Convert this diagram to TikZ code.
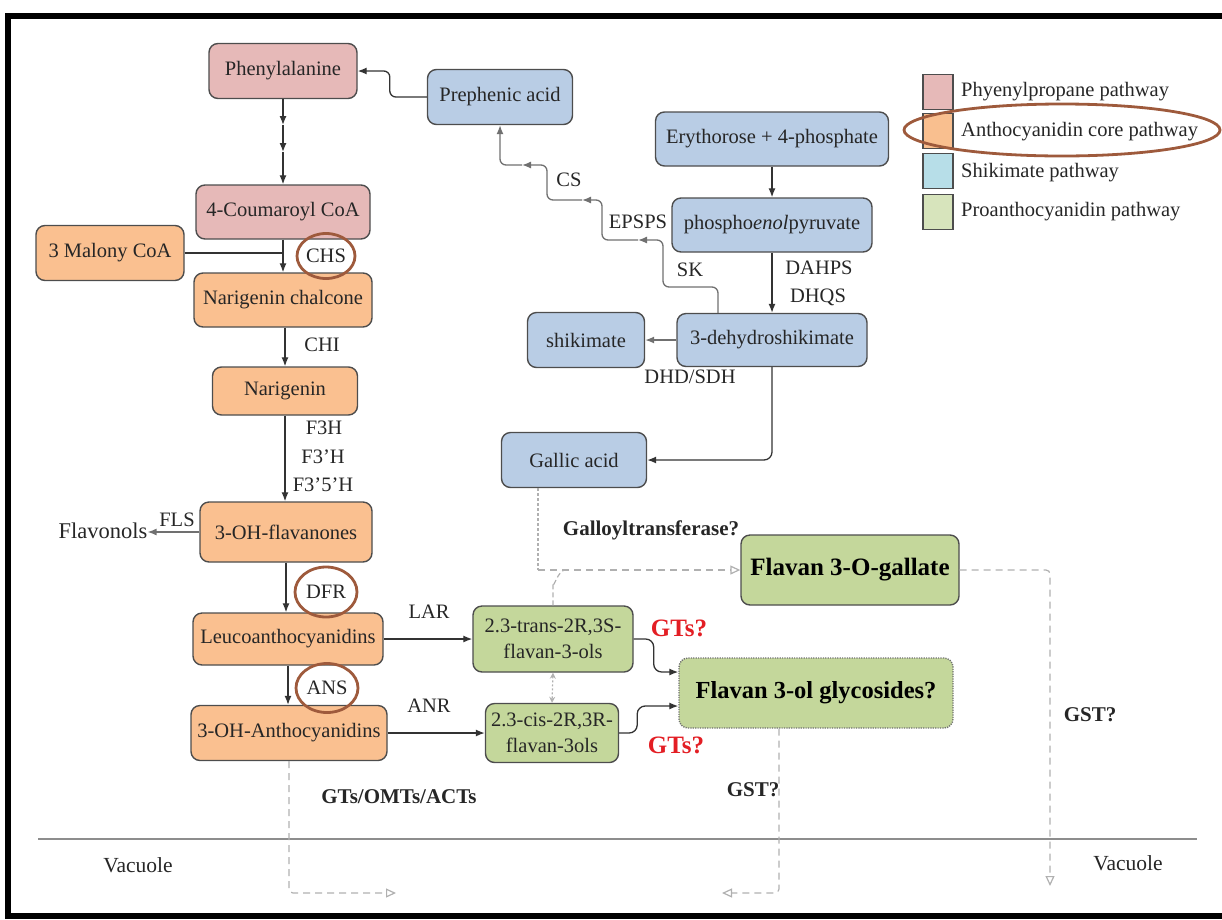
\documentclass[tikz,border=0pt]{standalone}
\usepackage{fontspec}
\setmainfont{Liberation Serif}
\usetikzlibrary{arrows.meta,shapes.geometric,calc}
\definecolor{pinkf}{HTML}{E6B9B8}
\definecolor{orangef}{HTML}{FAC090}
\definecolor{bluef}{HTML}{B9CDE5}
\definecolor{greenf}{HTML}{C4D79B}
\definecolor{lgpink}{HTML}{E6B9B8}
\definecolor{lgorange}{HTML}{F9BF8F}
\definecolor{lgblue}{HTML}{B7DEE8}
\definecolor{lggreen}{HTML}{D7E4BC}
\definecolor{bord}{HTML}{4D4D4D}
\definecolor{brownc}{HTML}{9E5A3C}
\definecolor{dgray}{HTML}{333333}
\definecolor{mgray}{HTML}{707070}
\definecolor{lgray}{HTML}{B0B0B0}
\definecolor{gtred}{HTML}{E31E24}
\definecolor{txt}{HTML}{262626}
\begin{document}
\begin{tikzpicture}[x=1pt,y=-1pt,
 box/.style={draw=bord, line width=1.4pt, rounded corners=9pt, inner sep=0pt, align=center, text=txt, font=\fontsize{20.5}{26}\selectfont},
 pinkbox/.style={box, fill=pinkf},
 orangebox/.style={box, fill=orangef},
 bluebox/.style={box, fill=bluef},
 greenbox/.style={box, fill=greenf},
 lab/.style={inner sep=0pt, text=txt, font=\fontsize{20.5}{24}\selectfont},
 blab/.style={inner sep=0pt, text=txt, font=\bfseries\fontsize{21}{24}\selectfont},
 redlab/.style={inner sep=0pt, text=gtred, font=\bfseries\fontsize{25}{28}\selectfont},
 enzc/.style={ellipse, draw=brownc, line width=2.8pt, inner sep=0pt, text=txt, font=\fontsize{20.5}{24}\selectfont},
 swatch/.style={draw=bord, line width=1.2pt, inner sep=0pt, minimum width=30pt, minimum height=35pt},
 conn/.style={draw=dgray, line width=1.3pt, -{Latex[length=9pt,width=7pt]}},
 plainline/.style={draw=dgray, line width=1.3pt},
 dconn/.style={draw=lgray, line width=1.2pt, dash pattern=on 7pt off 5pt, -{Triangle[open,length=10pt,width=9pt]}},
]
\useasboundingbox (0,0) rectangle (1222,919);
% frame
\draw[black, line width=6pt] (1240,16) -- (8,16) -- (8,916) -- (1240,916);

% nodes
\node[pinkbox, minimum width=148pt, minimum height=55pt] (phe) at (283,71) {Phenylalanine};
\node[bluebox, minimum width=145pt, minimum height=55pt] (pre) at (500,97) {Prephenic acid};
\node[bluebox, minimum width=233pt, minimum height=54pt] (ery) at (772,139) {Erythorose + 4-phosphate};
\node[bluebox, minimum width=200pt, minimum height=54pt] (pep) at (772,225) {phospho\textit{enol}pyruvate};
\node[bluebox, minimum width=190pt, minimum height=53pt] (dhs) at (772,340) {3-dehydroshikimate};
\node[bluebox, minimum width=117pt, minimum height=55pt] (shk) at (586,340) {shikimate};
\node[bluebox, minimum width=145pt, minimum height=55pt] (gal) at (574,460) {Gallic acid};
\node[pinkbox, minimum width=174pt, minimum height=54pt] (cou) at (283,212) {4-Coumaroyl CoA};
\node[orangebox, minimum width=148pt, minimum height=55pt] (mal) at (110,253) {3 Malony CoA};
\node[orangebox, minimum width=178pt, minimum height=54pt] (nch) at (283,300) {Narigenin chalcone};
\node[orangebox, minimum width=145pt, minimum height=48pt] (nar) at (285,391) {Narigenin};
\node[orangebox, minimum width=172pt, minimum height=60pt] (ohf) at (286,532) {3-OH-flavanones};
\node[orangebox, minimum width=190pt, minimum height=52pt] (leu) at (288,639) {Leucoanthocyanidins};
\node[orangebox, minimum width=196pt, minimum height=55pt] (oha) at (289,733) {3-OH-Anthocyanidins};
\node[greenbox, minimum width=160pt, minimum height=66pt] (tra) at (553,639) {2.3-trans-2R,3S-\\flavan-3-ols};
\node[greenbox, minimum width=133pt, minimum height=59pt] (cis) at (552,733) {2.3-cis-2R,3R-\\flavan-3ols};
\node[greenbox, minimum width=218pt, minimum height=70pt, text=black, font=\bfseries\fontsize{25}{28}\selectfont] (fog) at (850,570) {Flavan 3-O-gallate};
\node[greenbox, draw=bord!80, dash pattern=on 1.2pt off 1.2pt, minimum width=274pt, minimum height=70pt, text=black, font=\bfseries\fontsize{24.5}{28}\selectfont] (fgl) at (816,693) {Flavan 3-ol glycosides?};

% legend
\node[swatch, fill=lgpink] (lg1) at (938,92) {};
\node[swatch, fill=lgorange] (lg2) at (938,131) {};
\node[swatch, fill=lgblue] (lg3) at (938,171) {};
\node[swatch, fill=lggreen] (lg4) at (938,212) {};
\node[lab, anchor=west] (lt1) at (961,92) {Phyenylpropane pathway};
\node[lab, anchor=west] (lt2) at (961,132) {Anthocyanidin core pathway};
\node[lab, anchor=west] (lt3) at (961,173) {Shikimate pathway};
\node[lab, anchor=west] (lt4) at (961,212) {Proanthocyanidin pathway};
\node[ellipse, draw=brownc, line width=2.8pt, minimum width=316pt, minimum height=52pt] (oval) at (1062,130) {};

% phenylpropane chain
\coordinate (a1) at (283,125);
\coordinate (a2) at (283,152);
\draw[conn] (phe.south) -- (a1);
\draw[conn] (a1) -- (a2);
\draw[conn] (a2) -- (cou.north);
\draw[conn, rounded corners=6pt] (pre.west) -- ++(-37,0) |- (phe.east);
\draw[plainline] (mal.east) -- (cou.south |- mal.east);
\draw[conn] (cou.south) -- (nch.north);
\node[enzc, minimum width=58pt, minimum height=45pt] (chs) at (326,256) {CHS};
\draw[conn] (nch.south -| nar.north) -- (nar.north);
\node[lab] (chi) at (322,345) {CHI};
\draw[conn] (nar.south) -- (nar.south |- ohf.north);
\node[lab] (f3h) at (324,428) {F3H};
\node[lab] (f3ph) at (323,457) {F3'H};
\node[lab] (f35h) at (323,485) {F3'5'H};
\node[inner sep=0pt, text=txt, font=\fontsize{22.5}{26}\selectfont] (flv) at (103,531) {Flavonols};
\draw[conn, draw=mgray] (ohf.west) -- (ohf.west -| flv.east);
\node[lab] (fls) at (177,520) {FLS};
\draw[conn] (ohf.south) -- (ohf.south |- leu.north);
\node[enzc, minimum width=62pt, minimum height=50pt] (dfr) at (326,592) {DFR};
\draw[conn] (leu.south) -- (leu.south |- oha.north);
\node[enzc, minimum width=62pt, minimum height=49pt] (ans) at (327,688) {ANS};
\draw[conn] (leu.east) -- (tra.west);
\node[lab] (lar) at (429,612) {LAR};
\draw[conn] (oha.east) -- (cis.west);
\node[lab] (anr) at (429,706) {ANR};

% glycosides
\draw[conn, rounded corners=8pt] (tra.east) -- ++(20,0) |- ($(fgl.west)+(0,-21)$);
\draw[conn, rounded corners=8pt] (cis.east) -- ++(18,0) |- ($(fgl.west)+(0,13)$);
\node[redlab] (gt1) at (679,628) {GTs?};
\node[redlab] (gt2) at (676,745) {GTs?};
\draw[draw=lgray, line width=1.2pt, dash pattern=on 2pt off 2pt, {Stealth[open,length=6pt,width=6pt]}-{Stealth[open,length=6pt,width=6pt]}] (tra.south) -- (cis.north);

% shikimate pathway
\draw[conn] (ery.south) -- (pep.north);
\draw[conn] (pep.south) -- (dhs.north);
\node[lab] (dahps) at (819,268) {DAHPS};
\node[lab] (dhqs) at (818,297) {DHQS};
\draw[conn, draw=mgray] (dhs.west) -- (shk.east);
\node[lab] (dhd) at (690,377) {DHD/SDH};
\draw[conn, rounded corners=8pt] (dhs.south) |- (gal.east);
\coordinate (s1) at (638,240);
\coordinate (s2) at (582,200);
\coordinate (s3) at (522,165);
\draw[conn, draw=mgray, rounded corners=6pt] ($(dhs.north)+(-54,0)$) -- (718,287) -- (663,287) -- (663,240) -- (s1);
\draw[conn, draw=mgray, rounded corners=6pt] (s1) -- (602,240) -- (602,200) -- (s2);
\draw[conn, draw=mgray, rounded corners=6pt] (s2) -- (547,200) -- (547,165) -- (s3);
\draw[conn, draw=mgray, rounded corners=6pt] (s3) -- (500,165) -- (pre.south);
\node[lab] (sk) at (690,270) {SK};
\node[lab] (epsps) at (638,222) {EPSPS};
\node[lab] (cs) at (569,180) {CS};

% galloyl
\coordinate (gj) at (538,570);
\draw[draw=lgray, line width=1.2pt, dash pattern=on 2.5pt off 2.5pt] ($(gal.south)+(-36,0)$) -- (gj);
\draw[dconn] (gj) -- (fog.west);
\draw[draw=lgray, line width=1.2pt, dash pattern=on 5pt off 3pt] (tra.north) -- ++(0,-22) to[out=-90,in=180] (565,570);
\node[blab] (galt) at (651,530) {Galloyltransferase?};

% vacuole transport
\draw[draw=mgray!80, line width=2.5pt] (38,839) -- (1197,839);
\node[inner sep=0pt, text=txt, font=\fontsize{21.5}{24}\selectfont] (vac1) at (138,865) {Vacuole};
\node[inner sep=0pt, text=txt, font=\fontsize{21.5}{24}\selectfont] (vac2) at (1128,863) {Vacuole};
\coordinate (v1) at (396,893);
\coordinate (v2) at (1050,886);
\coordinate (v3) at (722,893);
\draw[dconn, rounded corners=4pt] (oha.south) |- (v1);
\draw[dconn, rounded corners=4pt] (fog.east) -| (v2);
\draw[dconn, rounded corners=4pt] ($(fgl.south)+(-37,0)$) |- (v3);
\node[blab] (gom) at (399,797) {GTs/OMTs/ACTs};
\node[blab] (gst1) at (753,790) {GST?};
\node[blab] (gst2) at (1090,715) {GST?};
\end{tikzpicture}
\end{document}
